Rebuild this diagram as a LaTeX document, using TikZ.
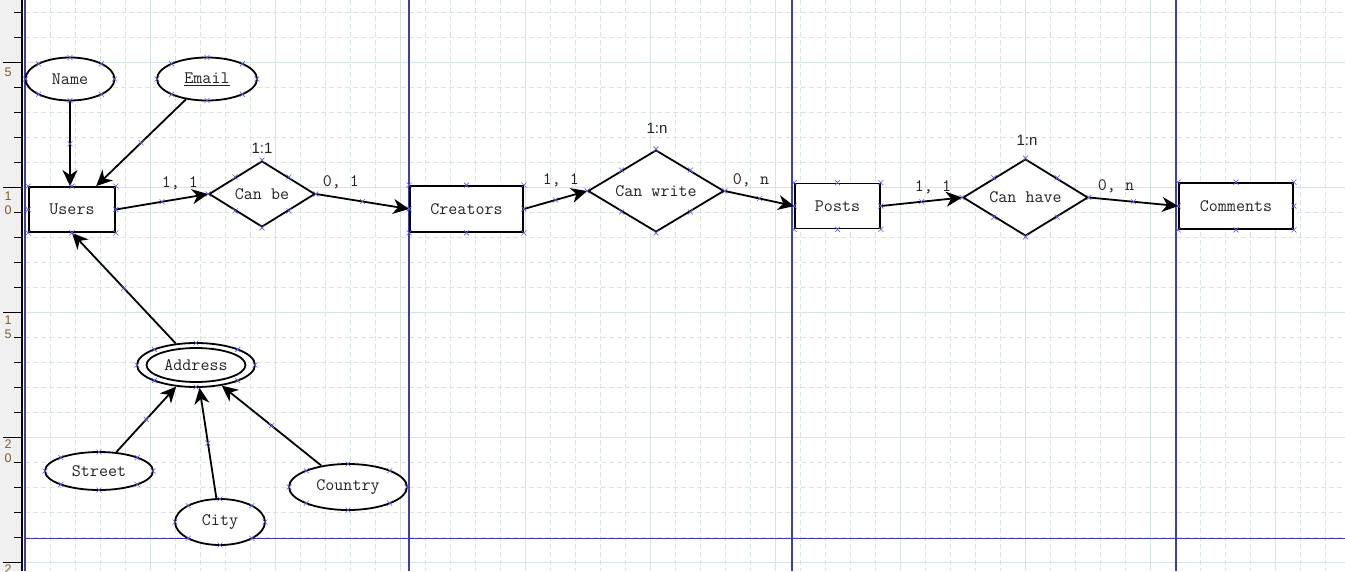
\documentclass[tikz,border=0pt]{standalone}
\usepackage{fontspec}
\setmainfont{Liberation Sans}
\usepackage{xcolor}
\usepackage{tikz}
\usetikzlibrary{shapes,arrows.meta,positioning,calc}

\definecolor{pageblue}{RGB}{60,60,180}
\definecolor{gridcol}{RGB}{216,228,228}
\definecolor{cpblue}{RGB}{95,95,225}
\definecolor{rulergray}{RGB}{240,240,240}
\definecolor{rulertext}{RGB}{130,90,40}
\definecolor{ertext}{RGB}{35,35,35}

\newcommand{\ermono}{\ttfamily\fontsize{17.5}{19}\selectfont}
\newcommand{\ersans}{\fontsize{15}{17}\selectfont}

\tikzset{
  entity/.style={draw, rectangle, line width=1.8pt, fill=white, inner sep=0pt, text=ertext, font=\ermono},
  relation/.style={draw, diamond, aspect=1.6, line width=1.8pt, fill=white, inner sep=0pt, text=ertext, font=\ermono},
  attrib/.style={draw, ellipse, line width=1.8pt, fill=white, inner sep=0pt, text=ertext, font=\ermono},
  link/.style={line width=1.8pt, -{Stealth[length=16pt,width=15pt,inset=5pt]}},
  card/.style={text=ertext, font=\ermono},
  ratio/.style={text=ertext, font=\ersans},
  rulerdigit/.style={text=rulertext, font=\fontsize{12.5}{13}\selectfont, inner sep=0pt},
  minorgrid/.style={gridcol, line width=0.8pt, dash pattern=on 5pt off 3pt},
  majorgrid/.style={gridcol, line width=0.9pt},
  pageline/.style={pageblue, line width=1.2pt},
  cpoint/.pic={\draw[cpblue, line width=0.6pt, arrows=-, solid] (-2.5,-2.5) -- (2.5,2.5) (-2.5,2.5) -- (2.5,-2.5);},
}

% connection points on boxes and diamonds
\newcommand{\cpbox}[1]{\foreach \an in {north west,north,north east,east,south east,south,south west,west} {\pic at (#1.\an) {cpoint};}}
% connection points on ellipses
\newcommand{\cpell}[3]{\foreach \an in {0,45,...,315} {\pic at ($(#1.center)+({#2*cos(\an)},{#3*sin(\an)})$) {cpoint};}}

\begin{document}
\begin{tikzpicture}[x=1pt, y=-1pt]
\useasboundingbox (0,0) rectangle (1345,571);
\clip (0,0) rectangle (1345,571);

% Grid
\foreach \gx in {50,75,...,1325} \draw[minorgrid] (\gx,0) -- (\gx,571);
\foreach \gy in {12.7,37.7,...,562.7} \draw[minorgrid] (25,\gy) -- (1345,\gy);
\foreach \gx in {150,275,...,1275} \draw[majorgrid] (\gx,0) -- (\gx,571);
\foreach \gy in {62.7,187.7,...,562.7} \draw[majorgrid] (25,\gy) -- (1345,\gy);

% Page breaks
\draw[pageline] (25,0) -- (25,571);
\foreach \px in {409,792,1176} \draw[pageline] (\px,0) -- (\px,571);
\draw[pageline] (25,538.7) -- (1345,538.7);

% Ruler
\fill[rulergray] (0,0) rectangle (21,571);
\draw[line width=1.6pt] (22,0) -- (22,571);
\foreach \k in {0,...,22} \draw[line width=1pt] (14,{12.7+25*\k}) -- (22,{12.7+25*\k});
\foreach \ty in {62.7,187.7,...,562.7} \draw[line width=1pt] (3,\ty) -- (22,\ty);
\node[rulerdigit] (r5) at (8,72) {5};
\node[rulerdigit] (r10a) at (8,196) {1};
\node[rulerdigit] (r10b) at (8,210) {0};
\node[rulerdigit] (r15a) at (8,320) {1};
\node[rulerdigit] (r15b) at (8,334) {5};
\node[rulerdigit] (r20a) at (8,444) {2};
\node[rulerdigit] (r20b) at (8,458) {0};
\node[rulerdigit] (r25a) at (8,569) {2};

% Attributes of Users
\node[attrib, minimum width=89, minimum height=43] (name) at (70,79) {Name};
\node[attrib, minimum width=100, minimum height=43] (email) at (207,79) {\underline{Email}};

% Entities
\node[entity, minimum width=86, minimum height=45] (users) at (72,209.5) {Users};
\node[entity, minimum width=113, minimum height=46] (creators) at (466.5,209) {Creators};
\node[entity, minimum width=85, minimum height=45] (posts) at (837.5,206) {Posts};
\node[entity, minimum width=114, minimum height=46] (comments) at (1236,206) {Comments};

% Relationships
\node[relation, minimum width=106, minimum height=66] (canbe) at (262,194) {Can be};
\node[relation, minimum width=136, minimum height=82] (canwrite) at (656,191) {Can write};
\node[relation, minimum width=125, minimum height=77] (canhave) at (1025.5,197.5) {Can have};

% Composite attribute
\node[attrib, minimum width=118, minimum height=44] (address) at (196,365) {Address};
\draw[line width=1.8pt] (address.center) ellipse (49.5pt and 17pt);
\node[attrib, minimum width=108, minimum height=38] (street) at (99,471) {Street};
\node[attrib, minimum width=90, minimum height=46] (city) at (220,522) {City};
\node[attrib, minimum width=118, minimum height=46] (country) at (348,487) {Country};

% Links
\draw[link] (name) -- (name.south |- users.north) pic[pos=.5]{cpoint};
\draw[link] (email) -- (users) pic[pos=.5]{cpoint};
\draw[link] (address) -- (users.south) pic[pos=.5]{cpoint};
\draw[link] (street) -- (address) pic[pos=.5]{cpoint};
\draw[link] (city) -- (address) pic[pos=.5]{cpoint};
\draw[link] (country) -- (address) pic[pos=.5]{cpoint};
\draw[link] (users.east) -- (canbe.west) pic[pos=.5]{cpoint};
\draw[link] (canbe.east) -- (creators.west) pic[pos=.5]{cpoint};
\draw[link] (creators.east) -- (canwrite.west) pic[pos=.5]{cpoint};
\draw[link] (canwrite.east) -- (posts.west) pic[pos=.5]{cpoint};
\draw[link] (posts.east) -- (canhave.west) pic[pos=.5]{cpoint};
\draw[link] (canhave.east) -- (comments.west) pic[pos=.5]{cpoint};

% Connection points
\cpbox{users} \cpbox{creators} \cpbox{posts} \cpbox{comments}
\cpbox{canbe} \cpbox{canwrite} \cpbox{canhave}
\cpell{name}{44.5}{21.5} \cpell{email}{50}{21.5} \cpell{address}{59}{22}
\cpell{street}{54}{19} \cpell{city}{45}{23} \cpell{country}{59}{23}

% Cardinalities
\node[card] (cb-left) at (180,183) {1, 1};
\node[card] (cb-right) at (341,182) {0, 1};
\node[ratio] (cb-ratio) at (262,148) {1:1};
\node[card] (cw-left) at (561,180) {1, 1};
\node[card] (cw-right) at (751,180) {0, n};
\node[ratio] (cw-ratio) at (657,128) {1:n};
\node[card] (ch-left) at (933,187) {1, 1};
\node[card] (ch-right) at (1116,186) {0, n};
\node[ratio] (ch-ratio) at (1027,140) {1:n};
\end{tikzpicture}
\end{document}
